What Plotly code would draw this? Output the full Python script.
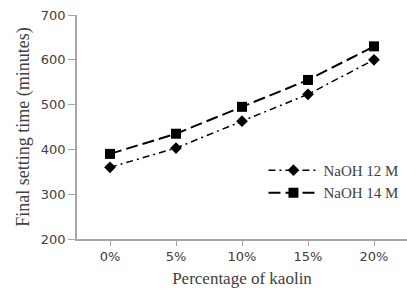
import plotly.graph_objects as go

categories = ["0%", "5%", "10%", "15%", "20%"]
naoh12 = [360, 403, 463, 523, 600]
naoh14 = [390, 435, 495, 555, 630]
y_ticks = [200, 300, 400, 500, 600, 700]

serif = "Liberation Serif, Times New Roman, serif"
sans = "DejaVu Sans, Verdana, sans-serif"
txt = "#404040"
axis_col = "#a6a6a6"

fig = go.Figure()
fig.add_trace(go.Scatter(
    x=categories, y=naoh12, name="NaOH 12 M", mode="lines+markers",
    line=dict(color="black", width=1.5, dash="7px,4px,2px,4px"),
    marker=dict(symbol="diamond", size=9, color="black"),
))
fig.add_trace(go.Scatter(
    x=categories, y=naoh14, name="NaOH 14 M", mode="lines+markers",
    line=dict(color="black", width=2, dash="12px,5px"),
    marker=dict(symbol="square", size=10, color="black"),
))

fig.update_layout(
    width=407, height=293,
    margin=dict(l=77, r=0, t=15, b=54, pad=0),
    paper_bgcolor="white", plot_bgcolor="white",
    font=dict(family=serif, size=13, color=txt),
    showlegend=True,
    legend=dict(x=0.565, y=0.38, xanchor="left", yanchor="top",
                bgcolor="rgba(0,0,0,0)", font=dict(family=serif, size=15, color=txt),
                itemwidth=50, tracegroupgap=0),
    xaxis=dict(
        type="category", range=[-0.5, 4.5], automargin=False,
        showline=True, linecolor=axis_col, linewidth=1.5,
        ticks="outside", ticklen=5, tickcolor=axis_col,
        tickfont=dict(family=sans, size=13, color=txt),
        showgrid=False, zeroline=False,
        title=dict(text="Percentage of kaolin", standoff=9,
                   font=dict(family=serif, size=17, color=txt)),
    ),
    yaxis=dict(
        range=[200, 700], tickvals=y_ticks, automargin=False,
        showline=True, linecolor=axis_col, linewidth=1.5,
        ticks="outside", ticklen=7, tickcolor=axis_col,
        tickfont=dict(family=sans, size=13, color=txt),
        showgrid=False, zeroline=False,
        title=dict(text="Final setting time (minutes)", standoff=7,
                   font=dict(family=serif, size=18, color=txt)),
    ),
)

fig.write_html("out.html",
               config={"displayModeBar": False},
               post_script="document.body.style.margin='0';document.body.style.overflow='hidden';")
